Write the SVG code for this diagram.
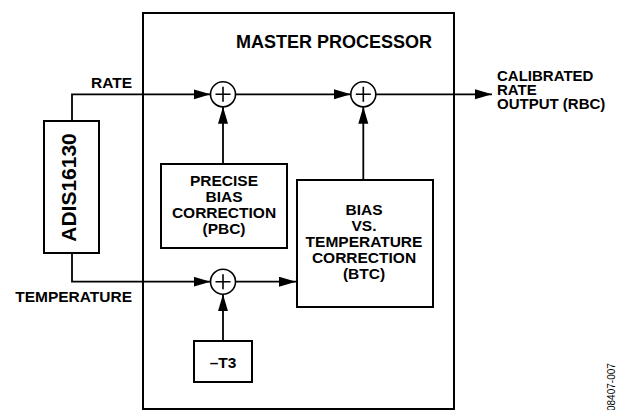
<svg xmlns="http://www.w3.org/2000/svg" width="617" height="410" viewBox="0 0 617 410">
  <style>
    .box { fill: #fff; stroke: #000; stroke-width: 2; }
    .sum { fill: #fff; stroke: #000; stroke-width: 1.6; }
    .plus { stroke: #000; stroke-width: 1.6; fill: none; }
    .wire { fill: none; stroke: #000; stroke-width: 1.8; }
    .arr { marker-end: url(#ah); }
    text { font-family: "Liberation Sans", Arial, sans-serif; font-weight: bold; fill: #000; }
    .lbl { font-size: 15.5px; }
    .out { font-size: 15px; }
    .mid { text-anchor: middle; }
    .end { text-anchor: end; }
  </style>
  <defs>
    <marker id="ah" markerUnits="userSpaceOnUse" markerWidth="18" markerHeight="11" refX="17" refY="5" orient="auto">
      <path d="M0,0 L17,5 L0,10 Z" fill="#000"/>
    </marker>
  </defs>
  <rect width="617" height="410" fill="#fff"/>

  <g id="master-processor">
    <rect class="box" x="143" y="13" width="311" height="396"/>
    <text class="mid" x="334" y="47.7" font-size="18">MASTER PROCESSOR</text>
  </g>

  <g id="adis16130">
    <rect class="box" x="44" y="121" width="55" height="132"/>
    <text class="mid" transform="translate(76,187.5) rotate(-90)" font-size="21">ADIS16130</text>
  </g>

  <g id="pbc">
    <rect class="box" x="161" y="164" width="126" height="84"/>
    <text class="lbl mid" x="224" y="186">PRECISE</text>
    <text class="lbl mid" x="224" y="202">BIAS</text>
    <text class="lbl mid" x="224" y="218">CORRECTION</text>
    <text class="lbl mid" x="224" y="234">(PBC)</text>
  </g>

  <g id="btc">
    <rect class="box" x="297" y="180" width="136" height="127"/>
    <text class="lbl mid" x="364" y="215">BIAS</text>
    <text class="lbl mid" x="364" y="231">VS.</text>
    <text class="lbl mid" x="364" y="247">TEMPERATURE</text>
    <text class="lbl mid" x="364" y="263">CORRECTION</text>
    <text class="lbl mid" x="364" y="279">(BTC)</text>
  </g>

  <g id="t3">
    <rect class="box" x="194" y="341" width="58" height="41"/>
    <text class="lbl mid" x="223" y="367.7">–T3</text>
  </g>

  <g id="sum1">
    <circle class="sum" cx="223" cy="94.3" r="12.5"/>
    <path class="plus" d="M215.5,94.3 H230.5 M223,86.8 V101.8"/>
  </g>
  <g id="sum2">
    <circle class="sum" cx="363.3" cy="94.3" r="12.5"/>
    <path class="plus" d="M355.8,94.3 H370.8 M363.3,86.8 V101.8"/>
  </g>
  <g id="sum3">
    <circle class="sum" cx="223" cy="281.7" r="12.5"/>
    <path class="plus" d="M215.5,281.7 H230.5 M223,274.2 V289.2"/>
  </g>

  <g id="connectors">
    <path class="wire arr" d="M72,121 V94.3 H210.5"/>
    <path class="wire arr" d="M235.5,94.3 H350.8"/>
    <path class="wire arr" d="M375.8,94.3 H492"/>
    <path class="wire arr" d="M223,164 V106.8"/>
    <path class="wire arr" d="M363.3,180 V106.8"/>
    <path class="wire arr" d="M72,253 V281.7 H210.5"/>
    <path class="wire arr" d="M235.5,281.7 H296"/>
    <path class="wire arr" d="M223,341 V294.2"/>
  </g>

  <g id="labels">
    <text class="lbl end" x="132" y="88.3">RATE</text>
    <text class="lbl end" x="132" y="301.7">TEMPERATURE</text>
    <text class="out" x="497" y="81">CALIBRATED</text>
    <text class="out" x="497" y="95">RATE</text>
    <text class="out" x="497" y="109">OUTPUT (RBC)</text>
    <text transform="translate(615,411) rotate(-90)" font-size="10" style="font-weight:normal" fill="#333">08407-007</text>
  </g>
</svg>
